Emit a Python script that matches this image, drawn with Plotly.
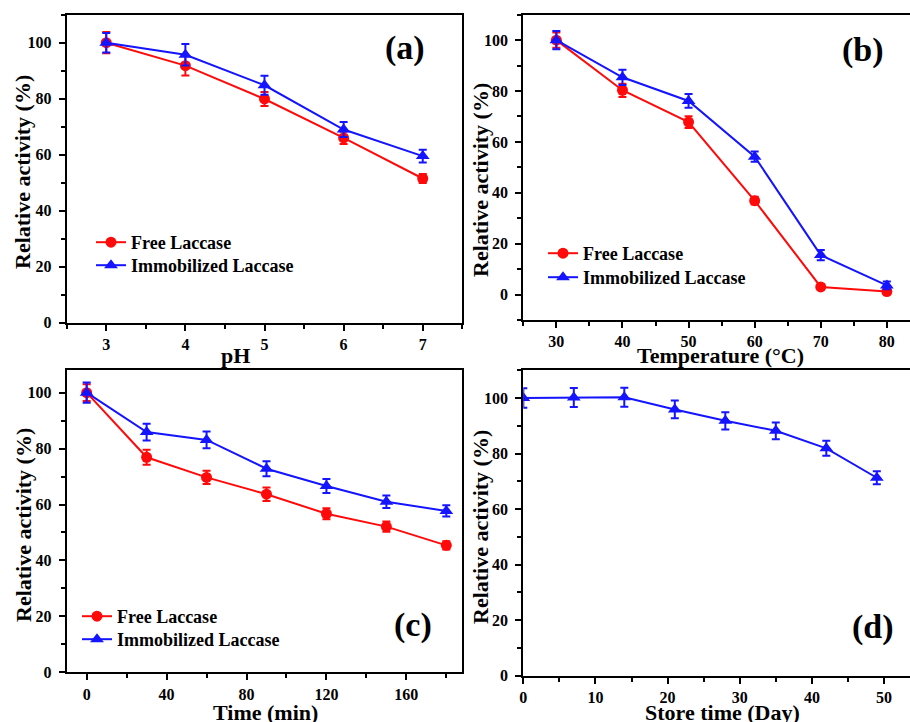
import plotly.graph_objects as go

# ---------------- data ----------------
ph = [3, 4, 5, 6, 7]
ph_free = [100, 91.8, 79.9, 66.0, 51.5]
ph_free_err = [3.8, 3.5, 2.5, 2.2, 1.6]
ph_imm = [100, 95.7, 84.8, 69.0, 59.5]
ph_imm_err = [3.5, 3.8, 3.4, 2.7, 2.3]

temp = [30, 40, 50, 60, 70, 80]
temp_free = [100, 80.3, 67.8, 36.9, 3.0, 1.2]
temp_free_err = [3.0, 2.6, 2.3, 1.5, 1.0, 1.0]
temp_imm = [100, 85.4, 76.1, 54.2, 15.5, 3.6]
temp_imm_err = [3.6, 3.0, 2.7, 2.0, 2.0, 1.5]

tmin = [0, 30, 60, 90, 120, 150, 180]
time_free = [100, 76.9, 69.7, 63.7, 56.7, 52.1, 45.4]
time_free_err = [3.0, 2.7, 2.4, 2.4, 2.0, 1.8, 1.5]
time_imm = [100, 85.9, 83.1, 72.8, 66.6, 61.0, 57.7]
time_imm_err = [3.6, 3.0, 3.0, 2.7, 2.5, 2.2, 2.0]

days = [0, 7, 14, 21, 28, 35, 42, 49]
store_imm = [100, 100.2, 100.3, 95.9, 91.8, 88.2, 81.9, 71.3]
store_imm_err = [3.5, 3.4, 3.4, 3.2, 3.1, 3.0, 2.7, 2.3]

x_titles = ["pH", "Temperature (°C)", "Time (min)", "Store time (Day)"]
y_title = "Relative activity (%)"
panel_labels = ["(a)", "(b)", "(c)", "(d)"]

RED = "#ff0a0a"
BLUE = "#1414ff"
FONT = "Liberation Serif"

W, H = 910, 722


def px_x(a, b):
    return [a / W, min(b / W, 1.0)]


def px_y(top, bottom):
    return [1 - bottom / H, 1 - top / H]


fig = go.Figure()


def add_series(x, y, err, color, symbol, name, xa, ya, legend, show=True):
    fig.add_trace(go.Scatter(
        x=x, y=y, mode="lines+markers", name=name,
        line=dict(color=color, width=2),
        marker=dict(color=color, symbol=symbol, size=11 if symbol == "circle" else 12),
        error_y=dict(type="data", array=err, visible=True, color=color, thickness=2, width=4),
        xaxis=xa, yaxis=ya, legend=legend, showlegend=show,
    ))


add_series(ph, ph_free, ph_free_err, RED, "circle", "Free Laccase", "x", "y", "legend")
add_series(ph, ph_imm, ph_imm_err, BLUE, "triangle-up", "Immobilized Laccase", "x", "y", "legend2")
add_series(temp, temp_free, temp_free_err, RED, "circle", "Free Laccase", "x2", "y2", "legend3")
add_series(temp, temp_imm, temp_imm_err, BLUE, "triangle-up", "Immobilized Laccase", "x2", "y2", "legend4")
add_series(tmin, time_free, time_free_err, RED, "circle", "Free Laccase", "x3", "y3", "legend5")
add_series(tmin, time_imm, time_imm_err, BLUE, "triangle-up", "Immobilized Laccase", "x3", "y3", "legend6")
add_series(days, store_imm, store_imm_err, BLUE, "triangle-up", "Immobilized Laccase", "x4", "y4", "legend", show=False)

tickfont = dict(family=FONT, size=16, color="black", weight="bold")
titlefont = dict(family=FONT, size=22, color="black", weight="bold")


def xax(domain, rng, dtick, minor, anchor, mirror=True):
    return dict(domain=domain, range=rng, dtick=dtick, tick0=0, anchor=anchor,
                showline=True, linecolor="black", linewidth=2, mirror=mirror,
                ticks="outside", ticklen=6, tickwidth=2, tickcolor="black",
                minor=dict(dtick=minor, ticks="outside", ticklen=4, tickwidth=2, tickcolor="black"),
                showgrid=False, zeroline=False, tickfont=tickfont, automargin=False)


def yax(domain, rng, anchor, mirror=True):
    return dict(domain=domain, range=rng, dtick=20, tick0=0, anchor=anchor,
                showline=True, linecolor="black", linewidth=2, mirror=mirror,
                ticks="outside", ticklen=6, tickwidth=2, tickcolor="black",
                minor=dict(dtick=10, ticks="outside", ticklen=4, tickwidth=2, tickcolor="black"),
                showgrid=False, zeroline=False, tickfont=tickfont, automargin=False,
                ticklabelstandoff=4)


legfont = dict(family=FONT, size=18, color="black", weight="bold")


def leg(line_x, row_y):
    return dict(x=(line_x - 7) / W, y=1 - (row_y - 18) / H, xanchor="left", yanchor="top",
                font=legfont, bgcolor="rgba(0,0,0,0)", itemwidth=30)


fig.update_layout(
    width=W, height=H,
    margin=dict(l=0, r=0, t=0, b=0, autoexpand=False),
    paper_bgcolor="white", plot_bgcolor="white",
    xaxis=xax(px_x(66.7, 462.3), [2.5, 7.5], 1, 0.5, "y"),
    yaxis=yax(px_y(14.7, 322.7), [0, 110], "x"),
    xaxis2=xax(px_x(523.3, 910), [25, 83.5], 10, 5, "y2", mirror=True),
    yaxis2=yax(px_y(14.7, 320), [-10, 110], "x2", mirror=False),
    xaxis3=xax(px_x(66.7, 462.3), [-10, 188], 40, 20, "y3"),
    yaxis3=yax(px_y(370.3, 672.3), [0, 108], "x3"),
    xaxis4=xax(px_x(523.3, 910), [0, 53.6], 10, 5, "y4", mirror=True),
    yaxis4=yax(px_y(370.3, 675.7), [0, 110], "x4", mirror=False),
    legend=leg(98, 242),
    legend2=leg(98, 265),
    legend3=leg(550, 253),
    legend4=leg(550, 277),
    legend5=leg(84, 616),
    legend6=leg(84, 639),
    showlegend=True,
)


def ann(text, x, y, font, angle=0, xanchor="center", yanchor="middle"):
    fig.add_annotation(text=text, x=x / W, y=1 - y / H, xref="paper", yref="paper",
                       showarrow=False, font=font, textangle=angle,
                       xanchor=xanchor, yanchor=yanchor)


labfont = dict(family=FONT, size=34, color="black", weight="bold")
for txt, x, y in zip(panel_labels, [405, 863, 413, 873], [48, 50, 625, 627]):
    ann(txt, x, y, labfont)

# x-axis titles
for txt, x, y in zip(x_titles, [235, 720, 265, 722], [341, 341, 698, 698]):
    ann(txt, x, y, titlefont, yanchor="top")

# y-axis titles
for x, y in zip([23, 480, 23, 480], [172, 180, 525, 527]):
    ann(y_title, x, y, titlefont, angle=-90)

fig.write_html("out.html",
               config={"displayModeBar": False},
               post_script="document.body.style.margin='0px';document.body.style.overflow='hidden';")
